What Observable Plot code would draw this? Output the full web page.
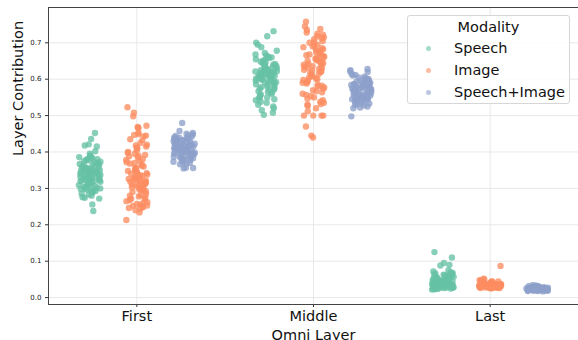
<!DOCTYPE html>
<html>
<head>
<meta charset="utf-8">
<script src="https://cdn.jsdelivr.net/npm/d3@7"></script>
<script src="https://cdn.jsdelivr.net/npm/@observablehq/plot@0.6"></script>
<style>
  html, body { margin: 0; padding: 0; background: #fff; overflow: hidden; }
  #wrap { position: relative; width: 578px; height: 340px; font-family: "DejaVu Sans", sans-serif; }
  #legend { position: absolute; left: 407px; top: 15px; width: 163px; height: 89px;
    border: 1px solid #d6d6d6; border-radius: 3px; background: rgba(255,255,255,0.85);
    font-size: 14.5px; color: #111; box-sizing: border-box; }
  #legend .title { position: absolute; left: 0; width: 100%; top: 3px; text-align: center; }
  #legend .row { position: absolute; left: 0; width: 100%; height: 20px; }
  #legend .dot { position: absolute; left: 18px; top: 7px; width: 5px; height: 5px; border-radius: 50%; opacity: 0.6; }
  #legend .lab { position: absolute; left: 46px; top: 0px; line-height: 18px; }
</style>
</head>
<body>
<div id="wrap"></div>
<script>
const layers = ["First", "Middle", "Last"];
const modalities = ["Speech", "Image", "Speech+Image"];
const colors = ["#66c2a5", "#fc8d62", "#8da0cb"];
const yTicks = [0.0, 0.1, 0.2, 0.3, 0.4, 0.5, 0.6, 0.7];

const firstSpeech = [0.452,0.436,0.421,0.418,0.415,0.402,0.395,0.39,0.388,0.386,0.384,0.383,0.381,0.38,0.378,0.377,0.375,0.373,0.372,0.37,0.369,0.367,0.366,0.365,0.363,0.362,0.36,0.359,0.358,0.357,0.355,0.354,0.353,0.352,0.351,0.35,0.349,0.348,0.347,0.346,0.345,0.344,0.343,0.342,0.341,0.34,0.339,0.338,0.337,0.336,0.335,0.334,0.333,0.332,0.331,0.33,0.329,0.328,0.327,0.326,0.325,0.324,0.323,0.322,0.321,0.32,0.318,0.317,0.315,0.314,0.312,0.31,0.309,0.307,0.305,0.304,0.302,0.3,0.299,0.298,0.297,0.296,0.295,0.293,0.29,0.288,0.285,0.283,0.28,0.276,0.274,0.272,0.256,0.238];
const firstImage = [0.523,0.508,0.498,0.472,0.469,0.467,0.465,0.452,0.449,0.447,0.445,0.443,0.435,0.432,0.425,0.42,0.418,0.415,0.412,0.41,0.405,0.4,0.398,0.395,0.392,0.39,0.388,0.385,0.38,0.378,0.375,0.372,0.37,0.368,0.365,0.362,0.36,0.357,0.355,0.353,0.35,0.348,0.346,0.344,0.342,0.34,0.338,0.336,0.334,0.332,0.33,0.328,0.326,0.325,0.323,0.322,0.32,0.318,0.317,0.315,0.313,0.312,0.31,0.308,0.306,0.305,0.303,0.302,0.3,0.298,0.296,0.294,0.292,0.29,0.285,0.282,0.28,0.278,0.275,0.272,0.27,0.268,0.265,0.262,0.26,0.257,0.255,0.253,0.252,0.25,0.248,0.246,0.244,0.24,0.234,0.213];
const firstBoth = [0.48,0.458,0.452,0.45,0.448,0.446,0.444,0.442,0.44,0.439,0.438,0.437,0.436,0.435,0.434,0.433,0.432,0.431,0.43,0.429,0.428,0.427,0.426,0.425,0.424,0.423,0.422,0.421,0.42,0.419,0.418,0.418,0.417,0.416,0.415,0.415,0.414,0.413,0.412,0.412,0.411,0.41,0.41,0.409,0.408,0.408,0.407,0.406,0.405,0.405,0.404,0.403,0.402,0.402,0.401,0.4,0.4,0.399,0.398,0.397,0.396,0.395,0.394,0.393,0.392,0.391,0.39,0.389,0.388,0.387,0.386,0.385,0.384,0.383,0.382,0.38,0.378,0.376,0.375,0.373,0.372,0.37,0.368,0.366,0.357,0.356,0.355];
const middleSpeech = [0.732,0.718,0.7,0.695,0.688,0.678,0.672,0.668,0.665,0.662,0.66,0.658,0.655,0.653,0.65,0.648,0.646,0.644,0.642,0.64,0.638,0.636,0.635,0.633,0.632,0.63,0.629,0.628,0.626,0.625,0.624,0.622,0.621,0.62,0.619,0.618,0.617,0.616,0.615,0.614,0.613,0.612,0.611,0.61,0.609,0.608,0.607,0.606,0.605,0.604,0.603,0.602,0.6,0.599,0.598,0.596,0.595,0.593,0.592,0.59,0.588,0.586,0.584,0.582,0.58,0.578,0.576,0.574,0.572,0.57,0.567,0.565,0.563,0.56,0.558,0.555,0.552,0.55,0.548,0.545,0.542,0.538,0.535,0.53,0.525,0.52,0.515,0.508,0.502];
const middleImage = [0.758,0.745,0.738,0.735,0.728,0.725,0.722,0.718,0.715,0.712,0.71,0.705,0.702,0.7,0.695,0.692,0.69,0.688,0.685,0.682,0.68,0.678,0.675,0.672,0.67,0.668,0.666,0.664,0.662,0.66,0.658,0.656,0.654,0.652,0.65,0.648,0.646,0.644,0.642,0.64,0.638,0.636,0.634,0.632,0.63,0.628,0.626,0.624,0.622,0.62,0.618,0.615,0.612,0.61,0.608,0.605,0.602,0.6,0.598,0.595,0.592,0.59,0.588,0.585,0.582,0.58,0.577,0.574,0.57,0.567,0.564,0.56,0.557,0.554,0.55,0.546,0.542,0.538,0.535,0.532,0.53,0.527,0.52,0.512,0.5,0.5,0.5,0.5,0.47,0.445,0.44];
const middleBoth = [0.628,0.625,0.622,0.62,0.615,0.612,0.61,0.607,0.605,0.603,0.601,0.6,0.598,0.596,0.595,0.594,0.592,0.591,0.59,0.589,0.588,0.587,0.586,0.585,0.584,0.583,0.582,0.581,0.58,0.579,0.578,0.577,0.576,0.575,0.574,0.573,0.572,0.571,0.57,0.569,0.568,0.567,0.566,0.565,0.564,0.563,0.562,0.561,0.56,0.559,0.558,0.557,0.556,0.555,0.554,0.553,0.552,0.551,0.55,0.549,0.548,0.547,0.546,0.545,0.544,0.543,0.542,0.541,0.54,0.538,0.537,0.535,0.533,0.532,0.53,0.528,0.525,0.522,0.52,0.498];
const lastSpeech = [0.125,0.11,0.095,0.09,0.088,0.075,0.072,0.07,0.068,0.066,0.065,0.064,0.063,0.062,0.061,0.06,0.059,0.058,0.057,0.056,0.055,0.054,0.053,0.052,0.051,0.05,0.05,0.049,0.048,0.048,0.047,0.046,0.046,0.045,0.045,0.044,0.044,0.043,0.043,0.042,0.042,0.041,0.041,0.04,0.04,0.039,0.039,0.038,0.038,0.037,0.037,0.036,0.036,0.035,0.035,0.034,0.034,0.033,0.033,0.032,0.032,0.031,0.031,0.03,0.03,0.029,0.029,0.028,0.028,0.027,0.027,0.026,0.026,0.025,0.025,0.024,0.024,0.023,0.022];
const lastImage = [0.087,0.052,0.05,0.048,0.047,0.045,0.044,0.043,0.042,0.041,0.04,0.04,0.039,0.039,0.038,0.038,0.037,0.037,0.036,0.036,0.036,0.035,0.035,0.035,0.035,0.034,0.034,0.034,0.034,0.034,0.033,0.033,0.033,0.033,0.033,0.033,0.032,0.032,0.032,0.032,0.032,0.032,0.031,0.031,0.031,0.031,0.031,0.031,0.03,0.03,0.03,0.03,0.03,0.03,0.029,0.029,0.029,0.029,0.029,0.028,0.028,0.028,0.028,0.027,0.027,0.027,0.026,0.026,0.025];
const lastBoth = [0.034,0.033,0.032,0.031,0.03,0.03,0.029,0.029,0.028,0.028,0.028,0.027,0.027,0.027,0.027,0.026,0.026,0.026,0.026,0.026,0.025,0.025,0.025,0.025,0.025,0.025,0.024,0.024,0.024,0.024,0.024,0.024,0.024,0.023,0.023,0.023,0.023,0.023,0.023,0.022,0.022,0.022,0.022,0.022,0.022,0.021,0.021,0.021,0.021,0.021,0.02,0.02,0.02,0.02,0.019,0.019,0.019,0.018,0.018,0.017];

const groups = [
  [firstSpeech, firstImage, firstBoth],
  [middleSpeech, middleImage, middleBoth],
  [lastSpeech, lastImage, lastBoth]
];

// deterministic strip-plot jitter (position only)
function jit(i, g) {
  const h = Math.sin((i + 1) * 12.9898 + (g + 1) * 78.233) * 43758.5453;
  return (h - Math.floor(h)) * 2 - 1;
}
const dodge = 0.8 / 3;
const rows = [];
groups.forEach((byMod, li) => {
  byMod.forEach((vals, mi) => {
    vals.forEach((v, i) => {
      rows.push({layer: li, mod: mi, value: v,
        xpos: li + (mi - 1) * dodge + jit(i, li * 3 + mi) * 0.062});
    });
  });
});

const chart = Plot.plot({
  width: 578, height: 340,
  marginLeft: 48, marginRight: 0, marginTop: 7, marginBottom: 36,
  style: {fontFamily: "DejaVu Sans, sans-serif", background: "#fff", color: "#222", overflow: "hidden"},
  x: {domain: [-0.5, 2.5]},
  y: {domain: [-0.019, 0.797]},
  marks: [
    Plot.gridX([0, 1, 2], {stroke: "#e8e8e8", strokeOpacity: 1}),
    Plot.gridY(yTicks, {stroke: "#e8e8e8", strokeOpacity: 1}),
    Plot.axisX([0, 1, 2], {tickFormat: i => layers[i], tickSize: 3, tickPadding: 3, fontSize: 14.5, label: null, stroke: "#333", fill: "#111"}),
    Plot.axisY(yTicks, {tickFormat: d3.format(".1f"), tickSize: 3, tickPadding: 4, fontSize: 7, label: null, stroke: "#333", fill: "#222"}),
    Plot.dot(rows, {x: "xpos", y: "value", r: 3.2, fill: d => colors[d.mod], fillOpacity: 0.78, stroke: "none"}),
    Plot.frame({stroke: "#444", strokeWidth: 1}),
    Plot.text(["Layer Contribution"], {frameAnchor: "left", dx: -30, rotate: -90, fontSize: 14.5, fill: "#111"}),
    Plot.text(["Omni Layer"], {frameAnchor: "bottom", dy: 35, fontSize: 14.5, fill: "#111"})
  ]
});
const wrap = document.getElementById("wrap");
wrap.appendChild(chart);

const legend = document.createElement("div");
legend.id = "legend";
let html = '<div class="title">Modality</div>';
modalities.forEach((m, i) => {
  html += `<div class="row" style="top:${23 + i * 22}px"><span class="dot" style="background:${colors[i]}"></span><span class="lab">${m}</span></div>`;
});
legend.innerHTML = html;
wrap.appendChild(legend);
</script>
</body>
</html>
